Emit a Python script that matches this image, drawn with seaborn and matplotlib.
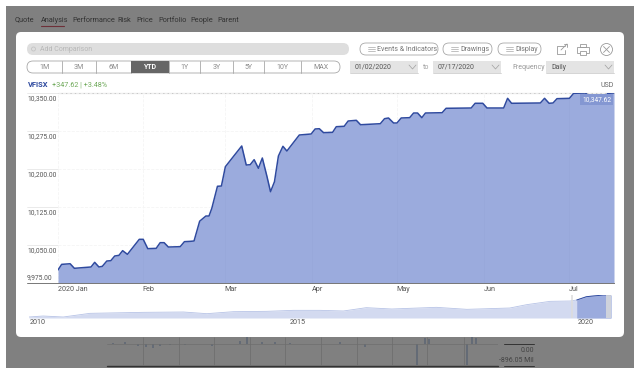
import numpy as np
import pandas as pd
import matplotlib
matplotlib.use('Agg')
import matplotlib.pyplot as plt
from matplotlib.patches import Rectangle, FancyBboxPatch, Circle
from matplotlib.transforms import ScaledTranslation
import seaborn as sns

# days since 01/02/2020 and fund value
days = [0, 1.3, 4.3, 5.8, 11.7, 13, 14.5, 15.7, 17.3, 18.7, 20.1, 21.6, 22.9, 24.6,
        28.8, 30.2, 31.8, 34.8, 36.2, 37.6, 39.1, 43.3, 44.8, 46.8, 48.2, 50.2, 52.4,
        53.5, 54.5, 56.5, 57.9, 59.3, 60.7, 65.1, 66.7, 68.1, 69.5, 71, 72.4, 74, 75.3,
        76.7, 78.1, 79.7, 81.1, 85.5, 89.7, 91.1, 92.6, 94.1, 97.3, 98.6, 101.4, 102.8,
        105.7, 107.2, 114.2, 115.7, 117.1, 118.9, 120.1, 121.6, 124.6, 126, 127.4, 128.9,
        130.2, 136.1, 137.5, 146.4, 147.8, 150.5, 152, 157.9, 159.3, 160.7, 170.9, 172.4,
        174, 175.4, 176.8, 181.2, 182.7, 186.9, 188.7, 193.4, 194.8, 197]
values = [10000.7, 10011.8, 10013, 10004, 10006.6, 10015.8, 10006.6, 10007.9, 10018.4,
          10019, 10028.3, 10029.6, 10038.8, 10031.6, 10061.2, 10061.2, 10042.8, 10043.4,
          10054.6, 10054.6, 10046, 10046.7, 10056.6, 10057.2, 10057.9, 10097, 10107.2,
          10107.2, 10122.4, 10165.9, 10166.4, 10204.5, 10214.4, 10245.4, 10207.9, 10208.5,
          10218.4, 10201.4, 10221.7, 10186.2, 10155.2, 10174.9, 10225.7, 10244.8, 10235.5,
          10267.1, 10269.1, 10279, 10279.5, 10271.7, 10272.4, 10283.5, 10284.3, 10294.7,
          10296.1, 10287.4, 10289.4, 10299.3, 10300.7, 10290.8, 10290.8, 10300.7, 10301.3,
          10310.5, 10310.5, 10301.3, 10310.5, 10311.1, 10319.8, 10320.4, 10329.7, 10329.7,
          10320.4, 10320.4, 10339.5, 10329.7, 10330.3, 10339.5, 10329.7, 10330.3, 10338.8,
          10339.5, 10349.4, 10350, 10340.7, 10339.5, 10349.4, 10350]
y_ticks = [9975, 10050, 10125, 10200, 10275, 10350]
month_starts = ['2020-01-02', '2020-02-01', '2020-03-01', '2020-04-01', '2020-05-01', '2020-06-01', '2020-07-01']
month_labels = ['2020 Jan', 'Feb', 'Mar', 'Apr', 'May', 'Jun', 'Jul']

# overview strip under the chart
nav_years = [2010.0, 2010.26, 2010.63, 2011.12, 2012.1, 2012.84, 2013.27, 2013.76, 2014.37,
             2014.86, 2015.35, 2015.78, 2016.2, 2016.67, 2017.49, 2018.05, 2018.84, 2019.15,
             2019.58, 2019.95, 2020.07, 2020.25, 2020.56, 2020.7]
nav_values = [8580, 8660, 8580, 8875, 8955, 8982, 8848, 9009, 9036, 9116, 9116, 9063, 9331,
              9224, 9358, 9197, 9304, 9572, 9840, 9867, 9947, 10215, 10350, 10350]

# page behind the dialog, dimmed
flow_pos = [113, 125, 138, 146, 153, 160, 170, 185, 212, 240, 247, 262, 275, 290, 340, 365, 417, 425, 429, 467, 472, 476]
flow_val = [60, 90, -60, -130, -180, -90, -50, -40, -90, 130, 300, 100, 90, 60, 90, -120, -880, 260, 240, -880, 300, 290]

NAV_TABS = [('Quote', 15), ('Analysis', 41), ('Performance', 72), ('Risk', 117),
            ('Price', 136), ('Portfolio', 158), ('People', 190), ('Parent', 217)]
RANGES = [('1M', 27, 62), ('3M', 62, 96), ('6M', 96, 131), ('YTD', 131, 169), ('1Y', 169, 200),
          ('3Y', 200, 233), ('5Y', 233, 264), ('10Y', 264, 301), ('MAX', 301, 340)]

LINE = '#2f4a9f'
FILL = '#9babdd'
GRID = '#f5f5f5'
TXT = '#555555'

sns.set_theme(style='white')
plt.rcParams['font.family'] = ['Roboto', 'DejaVu Sans']

fig = plt.figure(figsize=(6.4, 3.68), dpi=100, facecolor='white')


def add_ax(x0, y0, x1, y1):
    # pixel box, y measured from the top of the picture
    return fig.add_axes([x0 / 640, 1 - y1 / 368, (x1 - x0) / 640, (y1 - y0) / 368])


# chrome layer in pixel coordinates
bg = fig.add_axes([0, 0, 1, 1])
bg.set_xlim(0, 640)
bg.set_ylim(368, 0)
bg.axis('off')


def pill(x0, y0, x1, y1, fc='white', ec='#a8a8a8', lw=0.6, r=None, z=3):
    r = (y1 - y0) / 2 if r is None else r
    bg.add_patch(FancyBboxPatch((x0 + r, y0 + r), x1 - x0 - 2 * r, y1 - y0 - 2 * r,
                                boxstyle=f'round,pad={r}', fc=fc, ec=ec, lw=lw, zorder=z))


def label(x, y, s, color=TXT, size=5.0, ha='left', **kw):
    bg.text(x, y, s, color=color, fontsize=size, ha=ha, va='center', zorder=6, **kw)


bg.add_patch(Rectangle((6, 6), 628, 362, fc='#808080', ec='none', zorder=1))
for name, x in NAV_TABS:
    label(x, 20, name, color='#333333', size=5.3)
bg.plot([41, 64], [26, 26], color='#6e3038', lw=0.8, zorder=2)

# dimmed chart behind the dialog
strip = add_ax(107, 337, 498, 366)
strip.patch.set_alpha(0)
strip.vlines([143, 179, 214, 250, 285, 321, 357, 392, 427, 464], -939, 312, color='#6f6f6f', lw=0.6)
strip.bar(flow_pos, flow_val, width=2.5, color='#646b76', edgecolor='none', linewidth=0)
strip.axhline(0, color='#6e6e6e', lw=0.5)
strip.set_xlim(107, 498)
strip.set_ylim(-939, 312)
strip.axis('off')
bg.plot([107, 498], [366, 366], color='#333333', lw=1)
bg.plot([504, 534], [344.3, 344.3], color='#333333', lw=0.7)
bg.plot([504, 534], [365.5, 365.5], color='#333333', lw=0.7)
label(534, 350, '0.00', color='#444444', ha='right')
label(534, 361, '-896.05 Mil', color='#444444', ha='right')

# dialog
pill(16, 32, 624, 337, ec='none', lw=0, r=5, z=2)
pill(27, 43, 349, 55, fc='#dedede', ec='none', lw=0)
bg.add_patch(Circle((33.5, 49), 2, fc='none', ec='#c4c4c4', lw=0.6, zorder=5))
label(40, 49.5, 'Add Comparison', color='#b8b8b8')

for text, x0, x1 in [('Events & Indicators', 360, 438), ('Drawings', 443, 492), ('Display', 498, 541)]:
    pill(x0, 43, x1, 55)
    for yy in (47, 49, 51):
        bg.plot([x0 + 8, x0 + 15], [yy, yy], color='#a8a8a8', lw=0.5, zorder=5)
    label(x0 + 17, 49.5, text, color='#777777')

# share, print and close icons
bg.plot([565, 557, 557, 565, 565], [46, 46, 54, 54, 50], color='#999999', lw=0.6, zorder=5)
bg.plot([561, 567], [50, 44], color='#999999', lw=0.6, zorder=5)
bg.plot([564, 567, 567], [44, 44, 47], color='#999999', lw=0.6, zorder=5)
bg.add_patch(Rectangle((577, 47), 12, 6, fc='none', ec='#999999', lw=0.6, zorder=5))
bg.add_patch(Rectangle((580, 44), 6, 3, fc='none', ec='#999999', lw=0.6, zorder=5))
bg.add_patch(Rectangle((580, 51), 6, 4, fc='white', ec='#999999', lw=0.6, zorder=5))
bg.add_patch(Circle((606.5, 49.5), 6, fc='none', ec='#999999', lw=0.6, zorder=5))
bg.plot([603.5, 609.5], [46.5, 52.5], color='#999999', lw=0.6, zorder=5)
bg.plot([603.5, 609.5], [52.5, 46.5], color='#999999', lw=0.6, zorder=5)

# range selector
pill(27, 61, 340, 73)
for text, x0, x1 in RANGES:
    if text == 'YTD':
        bg.add_patch(Rectangle((x0, 61), x1 - x0, 12, fc='#666666', ec='none', zorder=4))
        label((x0 + x1) / 2, 67.3, text, color='white', ha='center', fontweight='bold')
    else:
        label((x0 + x1) / 2, 67.3, text, color='#8a8a8a', ha='center')
    if x1 < 340:
        bg.plot([x1, x1], [61, 73], color='#a8a8a8', lw=0.6, zorder=4)

# date pickers
for text, x0, x1 in [('01/02/2020', 350, 418), ('07/17/2020', 433, 501), ('Daily', 546, 614)]:
    bg.add_patch(Rectangle((x0, 61), x1 - x0, 12, fc='#e4e4e4', ec='none', zorder=3))
    bg.plot([x0, x1], [73, 73], color='#c4c4c4', lw=0.5, zorder=4)
    bg.plot([x1 - 9, x1 - 5.5, x1 - 2], [65, 69, 65], color='#a0a0a0', lw=0.5, zorder=4)
    label(x0 + 5, 67.3, text, color='#555555')
label(423, 67.3, 'to', color='#a0a0a0')
label(512, 67.3, 'Frequency', color='#999999')

label(28, 85.3, 'VFISX', color=LINE, size=5.4, fontweight='bold')
label(52, 85.3, '+347.62 | +3.48%', color='#6fa95a', size=5.2)
label(614, 85.3, 'USD', color='#666666', ha='right')
bg.plot([58, 614], [92.5, 92.5], color='#c8c8c8', lw=0.8, zorder=3)

# main chart
start = pd.Timestamp('2020-01-02')
df = pd.DataFrame({'date': start + pd.to_timedelta(days, unit='D'), 'value': values})
ax = add_ax(58, 93, 614, 283)
ax.patch.set_alpha(0)
ax.grid(True, color=GRID, lw=0.6, ls='--')
ax.set_axisbelow(True)
ax.fill_between(df['date'], df['value'], 9975, color=FILL, lw=0, zorder=2)
sns.lineplot(data=df, x='date', y='value', ax=ax, color=LINE, lw=1.1, zorder=3)
# month lines show faintly through the fill
month_dates = pd.to_datetime(month_starts[1:])
month_tops = np.interp((month_dates - start).days, days, values)
ax.vlines(month_dates, 9975, month_tops, color='#8fa0d2', lw=0.5, alpha=0.35, zorder=2.5)
ax.set_xlim(start, df['date'].iloc[-1])
ax.set_ylim(9975, 10350)
ax.set_xlabel('')
ax.set_ylabel('')
sns.despine(ax=ax, left=True, top=True, right=True)
ax.spines['bottom'].set_color('#777777')
ax.spines['bottom'].set_linewidth(0.7)
ax.set_xticks(pd.to_datetime(month_starts))
ax.set_xticklabels(month_labels, ha='left', fontsize=5.2, color=TXT)
ax.set_yticks(y_ticks)
ax.set_yticklabels([f'{v:,.2f}' for v in y_ticks], ha='left', fontsize=4.9, color=TXT)
ax.tick_params(axis='x', length=0, pad=2)
ax.tick_params(axis='y', length=0, pad=22.3)
for lab, v in zip(ax.get_yticklabels(), y_ticks):
    lab.set_verticalalignment('bottom' if v == 9975 else 'top')
    lab.set_transform(lab.get_transform() + ScaledTranslation(0, (1.5 if v == 9975 else -1.2) / 72, fig.dpi_scale_trans))
for v in y_ticks:
    bg.plot([27, 58], [283 - (v - 9975) * 190 / 375] * 2,
            color='#777777' if v == 9975 else '#e2e2e2', lw=0.7 if v == 9975 else 0.5, zorder=3)
ax.text(0.995, 0.982, '10,347.62', transform=ax.transAxes, ha='right', va='top', fontsize=4.8,
        color='white', zorder=5,
        bbox=dict(boxstyle='square,pad=0.3', fc='#8497d2', ec='none'))

# overview
nav = add_ax(29, 295, 611, 318)
nav.patch.set_alpha(0)
nav.fill_between(nav_years, nav_values, 8500, color='#d3daf0', lw=0)
sns.lineplot(x=nav_years, y=nav_values, ax=nav, color='#b7c3e6', lw=0.6)
sel = np.array(nav_years) >= 2020.0
sel_x = np.array(nav_years)[sel]
sel_y = np.array(nav_values)[sel]
nav.fill_between(sel_x, sel_y, 8500, color=FILL, lw=0, zorder=3)
nav.plot(sel_x, sel_y, color=LINE, lw=0.7, zorder=4)
nav.axvspan(2019.96, 2020.0, color='#dcdcdc', alpha=0.8, lw=0, zorder=4)
nav.axvspan(2020.6, 2020.7, color='#dcdcdc', alpha=0.8, lw=0, zorder=4)
nav.set_xlim(2010.0, 2020.7)
nav.set_ylim(8500, 10350)
nav.axis('off')
label(30, 323, '2010', size=5.2)
label(290, 323, '2015', size=5.2)
label(578, 323, '2020', size=5.2)

fig.savefig('out.png', dpi=100)
